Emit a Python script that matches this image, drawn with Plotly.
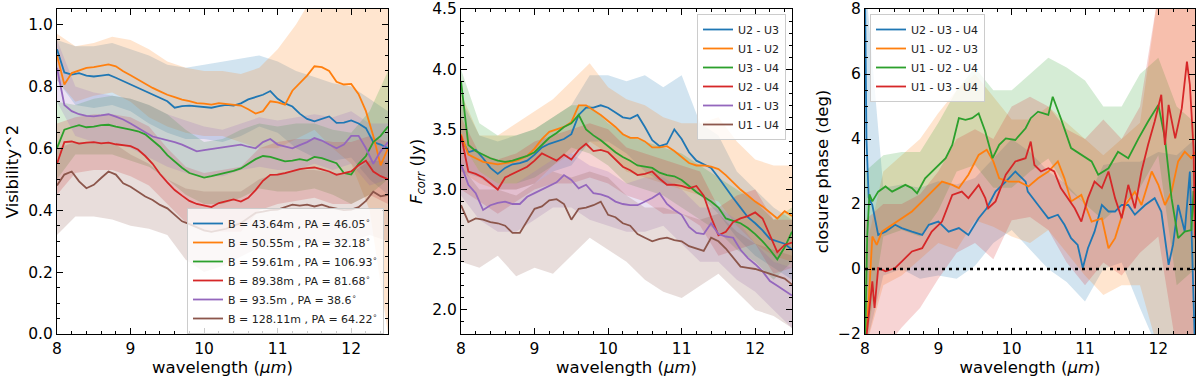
import plotly.graph_objects as go

# ---------------- data ----------------
COLORS = ['#1f77b4', '#ff7f0e', '#2ca02c', '#d62728', '#9467bd', '#8c564b']

WL = [8.0, 8.1, 8.2, 8.3, 8.4, 8.5, 8.6, 8.7, 8.8, 8.9, 9.0, 9.1, 9.2, 9.3, 9.4, 9.5,
      9.6, 9.7, 9.8, 9.9, 10.0, 10.1, 10.2, 10.3, 10.4, 10.5, 10.6, 10.7, 10.8, 10.9,
      11.0, 11.1, 11.2, 11.3, 11.4, 11.5, 11.6, 11.7, 11.8, 11.9, 12.0, 12.1, 12.2,
      12.3, 12.4, 12.5]
WL_BAND = [8.0, 8.25, 8.5, 8.75, 9.0, 9.25, 9.5, 9.75, 10.0, 10.25, 10.5, 10.75,
           11.0, 11.25, 11.5, 11.75, 12.0, 12.25, 12.5]

# panel 1 : squared visibility
VIS_NAMES = ['B = 43.64m , PA = 46.05<sup>∘</sup>', 'B = 50.55m , PA = 32.18<sup>∘</sup>',
             'B = 59.61m , PA = 106.93<sup>∘</sup>', 'B = 89.38m , PA = 81.68<sup>∘</sup>',
             'B = 93.5m , PA = 38.6<sup>∘</sup>', 'B = 128.11m , PA = 64.22<sup>∘</sup>']
vis_blue = [0.92, 0.845, 0.838, 0.843, 0.835, 0.832, 0.835, 0.838, 0.828, 0.817, 0.805, 0.795,
            0.784, 0.773, 0.762, 0.752, 0.731, 0.736, 0.738, 0.736, 0.733, 0.731, 0.736, 0.74,
            0.738, 0.745, 0.758, 0.766, 0.773, 0.785, 0.76, 0.745, 0.735, 0.712, 0.695, 0.687,
            0.695, 0.703, 0.682, 0.683, 0.69, 0.68, 0.665, 0.62, 0.612, 0.6]
vis_orange = [0.9, 0.806, 0.843, 0.852, 0.86, 0.862, 0.867, 0.871, 0.865, 0.849, 0.836, 0.822,
              0.808, 0.795, 0.784, 0.773, 0.765, 0.757, 0.752, 0.746, 0.744, 0.741, 0.746, 0.743,
              0.741, 0.738, 0.726, 0.712, 0.72, 0.752, 0.748, 0.741, 0.786, 0.81, 0.835, 0.865,
              0.862, 0.85, 0.815, 0.806, 0.808, 0.775, 0.72, 0.64, 0.545, 0.6]
vis_green = [0.6, 0.66, 0.668, 0.675, 0.668, 0.67, 0.675, 0.676, 0.67, 0.666, 0.66, 0.655,
             0.645, 0.625, 0.605, 0.578, 0.556, 0.537, 0.52, 0.513, 0.505, 0.51, 0.515, 0.52,
             0.527, 0.535, 0.55, 0.565, 0.575, 0.572, 0.565, 0.558, 0.56, 0.565, 0.56, 0.572,
             0.568, 0.56, 0.552, 0.52, 0.515, 0.55, 0.575, 0.62, 0.64, 0.67]
vis_red = [0.55, 0.62, 0.622, 0.615, 0.618, 0.62, 0.616, 0.618, 0.613, 0.61, 0.607, 0.596,
           0.575, 0.55, 0.517, 0.49, 0.465, 0.447, 0.43, 0.42, 0.415, 0.41, 0.423, 0.43,
           0.435, 0.428, 0.44, 0.465, 0.495, 0.514, 0.515, 0.52, 0.527, 0.533, 0.536, 0.538,
           0.532, 0.525, 0.514, 0.52, 0.525, 0.545, 0.56, 0.525, 0.51, 0.5]
vis_purple = [0.86, 0.74, 0.72, 0.71, 0.705, 0.703, 0.706, 0.71, 0.702, 0.693, 0.68, 0.665,
              0.652, 0.638, 0.632, 0.628, 0.62, 0.612, 0.6, 0.59, 0.594, 0.598, 0.6, 0.604,
              0.61, 0.612, 0.605, 0.6, 0.62, 0.63, 0.612, 0.605, 0.6, 0.61, 0.62, 0.633,
              0.625, 0.612, 0.6, 0.612, 0.64, 0.64, 0.6, 0.55, 0.59, 0.62]
vis_brown = [0.48, 0.515, 0.525, 0.493, 0.471, 0.482, 0.504, 0.525, 0.515, 0.487, 0.476, 0.46,
             0.444, 0.433, 0.417, 0.406, 0.385, 0.364, 0.355, 0.345, 0.335, 0.33, 0.335, 0.34,
             0.35, 0.358, 0.375, 0.391, 0.395, 0.4, 0.402, 0.41, 0.418, 0.415, 0.418, 0.412,
             0.418, 0.41, 0.405, 0.4, 0.402, 0.41, 0.43, 0.46, 0.445, 0.45]
VIS = [vis_blue, vis_orange, vis_green, vis_red, vis_purple, vis_brown]

vis_hi = [
    [0.95, 0.93, 0.93, 0.94, 0.92, 0.90, 0.87, 0.86, 0.87, 0.88, 0.89, 0.90, 0.88, 0.85, 0.83, 0.81, 0.80, 0.76, 0.72],
    [0.97, 0.93, 0.94, 0.96, 0.95, 0.92, 0.88, 0.86, 0.85, 0.85, 0.84, 0.86, 0.92, 1.00, 1.10, 1.10, 1.10, 1.10, 1.10],
    [0.75, 0.74, 0.76, 0.77, 0.76, 0.74, 0.71, 0.66, 0.62, 0.63, 0.66, 0.68, 0.67, 0.68, 0.68, 0.66, 0.65, 0.72, 0.85],
    [0.68, 0.70, 0.71, 0.71, 0.70, 0.67, 0.60, 0.54, 0.52, 0.53, 0.54, 0.60, 0.62, 0.63, 0.63, 0.62, 0.62, 0.64, 0.62],
    [0.95, 0.80, 0.78, 0.77, 0.76, 0.74, 0.71, 0.69, 0.67, 0.66, 0.68, 0.70, 0.69, 0.70, 0.71, 0.70, 0.72, 0.68, 0.68],
    [0.60, 0.62, 0.62, 0.62, 0.58, 0.55, 0.50, 0.47, 0.46, 0.46, 0.46, 0.50, 0.52, 0.53, 0.53, 0.52, 0.52, 0.56, 0.56],
]
vis_lo = [
    [0.82, 0.74, 0.73, 0.74, 0.72, 0.68, 0.65, 0.63, 0.63, 0.62, 0.64, 0.67, 0.65, 0.60, 0.57, 0.56, 0.57, 0.50, 0.45],
    [0.82, 0.75, 0.77, 0.78, 0.75, 0.70, 0.67, 0.65, 0.64, 0.64, 0.62, 0.60, 0.60, 0.63, 0.66, 0.60, 0.55, 0.40, 0.00],
    [0.50, 0.58, 0.58, 0.58, 0.56, 0.54, 0.50, 0.45, 0.42, 0.42, 0.44, 0.47, 0.46, 0.46, 0.47, 0.45, 0.42, 0.45, 0.50],
    [0.45, 0.52, 0.53, 0.53, 0.51, 0.48, 0.42, 0.36, 0.33, 0.33, 0.33, 0.40, 0.42, 0.43, 0.44, 0.42, 0.42, 0.45, 0.42],
    [0.75, 0.64, 0.62, 0.62, 0.60, 0.57, 0.54, 0.52, 0.51, 0.51, 0.53, 0.54, 0.53, 0.53, 0.55, 0.53, 0.55, 0.48, 0.50],
    [0.32, 0.38, 0.38, 0.37, 0.35, 0.34, 0.32, 0.24, 0.20, 0.22, 0.25, 0.28, 0.30, 0.30, 0.30, 0.29, 0.30, 0.32, 0.30],
]

# panel 2 : correlated flux
FC_NAMES = ['U2 - U3', 'U1 - U2', 'U3 - U4', 'U2 - U4', 'U1 - U3', 'U1 - U4']
fc_blue = [3.43, 3.31, 3.33, 3.26, 3.18, 3.13, 3.18, 3.21, 3.22, 3.24, 3.29, 3.35, 3.38, 3.40,
           3.42, 3.46, 3.62, 3.68, 3.68, 3.70, 3.68, 3.64, 3.60, 3.59, 3.62, 3.52, 3.41, 3.36,
           3.38, 3.50, 3.42, 3.31, 3.24, 3.21, 3.18, 3.10, 3.01, 2.93, 2.85, 2.77, 2.72, 2.66,
           2.59, 2.57, 2.55, 2.50]
fc_orange = [3.46, 3.29, 3.26, 3.23, 3.22, 3.21, 3.22, 3.23, 3.25, 3.28, 3.34, 3.42, 3.48, 3.50,
             3.52, 3.56, 3.70, 3.70, 3.66, 3.62, 3.57, 3.52, 3.46, 3.43, 3.43, 3.40, 3.35, 3.35,
             3.36, 3.32, 3.27, 3.22, 3.20, 3.20, 3.19, 3.17, 3.12, 3.06, 3.00, 2.95, 2.90, 2.86,
             2.81, 2.76, 2.82, 2.78]
fc_green = [3.9, 3.37, 3.32, 3.29, 3.26, 3.24, 3.23, 3.24, 3.26, 3.28, 3.31, 3.37, 3.43, 3.47,
            3.52, 3.55, 3.62, 3.50, 3.45, 3.41, 3.36, 3.31, 3.27, 3.24, 3.20, 3.19, 3.18, 3.14,
            3.12, 3.11, 3.08, 3.03, 2.98, 2.94, 2.90, 2.85, 2.76, 2.74, 2.72, 2.68, 2.63, 2.57,
            2.50, 2.42, 2.52, 2.65]
fc_red = [3.45, 3.15, 3.13, 3.10, 3.05, 3.00, 3.10, 3.13, 3.16, 3.19, 3.24, 3.30, 3.27, 3.24,
          3.29, 3.25, 3.33, 3.38, 3.32, 3.33, 3.31, 3.25, 3.19, 3.16, 3.12, 3.13, 3.15, 3.09,
          3.04, 3.04, 3.03, 3.01, 3.03, 2.95, 2.77, 2.62, 2.65, 2.73, 2.76, 2.78, 2.81, 2.76,
          2.62, 2.48, 2.54, 2.56]
fc_purple = [3.21, 3.04, 2.97, 2.83, 2.87, 2.89, 2.90, 2.88, 2.88, 2.94, 2.97, 3.00, 3.03, 3.06,
             3.12, 3.08, 3.01, 3.04, 2.97, 2.96, 2.94, 2.90, 2.88, 2.87, 2.87, 2.90, 2.93, 2.97,
             2.88, 2.83, 2.79, 2.69, 2.64, 2.63, 2.72, 2.63, 2.61, 2.60, 2.50, 2.43, 2.38, 2.32,
             2.24, 2.20, 2.16, 2.12]
fc_brown = [2.87, 2.73, 2.76, 2.75, 2.73, 2.72, 2.70, 2.64, 2.64, 2.74, 2.84, 2.86, 2.91, 2.92,
            2.88, 2.75, 2.84, 2.85, 2.87, 2.90, 2.79, 2.77, 2.72, 2.70, 2.63, 2.60, 2.57, 2.59,
            2.60, 2.58, 2.57, 2.53, 2.51, 2.49, 2.60, 2.57, 2.51, 2.43, 2.36, 2.35, 2.34, 2.32,
            2.30, 2.28, 2.26, 2.21]
FC = [fc_blue, fc_orange, fc_green, fc_red, fc_purple, fc_brown]

fc_hi = [
    [3.75, 3.45, 3.40, 3.45, 3.50, 3.60, 3.70, 3.95, 3.95, 3.90, 3.95, 3.85, 3.95, 3.55, 3.45, 3.15, 3.00, 2.85, 2.75],
    [3.80, 3.45, 3.45, 3.55, 3.65, 3.75, 3.90, 4.05, 3.85, 3.75, 3.70, 3.60, 3.55, 3.55, 3.60, 3.40, 3.25, 3.20, 3.20],
    [4.00, 3.55, 3.45, 3.45, 3.50, 3.60, 3.70, 3.70, 3.55, 3.45, 3.40, 3.35, 3.30, 3.20, 3.10, 3.00, 2.90, 2.75, 2.85],
    [3.60, 3.30, 3.25, 3.30, 3.40, 3.45, 3.50, 3.55, 3.50, 3.35, 3.30, 3.25, 3.20, 3.15, 2.85, 2.95, 3.00, 2.75, 2.75],
    [3.40, 3.15, 3.05, 3.05, 3.15, 3.25, 3.30, 3.20, 3.15, 3.05, 3.10, 3.10, 3.00, 2.85, 2.85, 2.75, 2.55, 2.40, 2.35],
    [3.20, 3.00, 3.00, 2.95, 3.05, 3.15, 3.10, 3.15, 3.10, 2.95, 2.85, 2.85, 2.80, 2.75, 2.80, 2.65, 2.55, 2.50, 2.45],
]
fc_lo = [
    [3.15, 3.10, 3.00, 3.00, 3.05, 3.15, 3.20, 3.40, 3.40, 3.30, 3.15, 3.05, 3.05, 2.95, 2.80, 2.60, 2.45, 2.35, 2.25],
    [3.15, 3.05, 3.00, 3.00, 3.05, 3.20, 3.30, 3.40, 3.30, 3.15, 3.10, 3.05, 3.00, 2.95, 2.90, 2.70, 2.55, 2.45, 2.40],
    [3.40, 3.15, 3.05, 3.05, 3.10, 3.20, 3.35, 3.30, 3.20, 3.05, 3.00, 2.95, 2.85, 2.75, 2.65, 2.50, 2.40, 2.25, 2.40],
    [3.00, 2.90, 2.80, 2.90, 3.00, 3.05, 3.05, 3.10, 3.05, 2.95, 2.90, 2.80, 2.80, 2.70, 2.45, 2.50, 2.55, 2.30, 2.35],
    [2.95, 2.75, 2.65, 2.65, 2.75, 2.85, 2.85, 2.75, 2.70, 2.65, 2.65, 2.70, 2.55, 2.40, 2.40, 2.25, 2.15, 2.00, 1.85],
    [2.40, 2.35, 2.45, 2.28, 2.35, 2.30, 2.45, 2.60, 2.50, 2.40, 2.25, 2.15, 2.10, 2.20, 2.30, 2.15, 2.00, 1.95, 1.85],
]

# panel 3 : closure phase (noisy, sampled where read)
CP_NAMES = ['U2 - U3 - U4', 'U1 - U2 - U3', 'U1 - U2 - U4', 'U1 - U3 - U4']
cp_blue_x = [8.0, 8.02, 8.05, 8.1, 8.18, 8.28, 8.41, 8.5, 8.64, 8.78, 8.87, 9.0, 9.14, 9.28,
             9.41, 9.55, 9.66, 9.78, 9.92, 10.05, 10.19, 10.22, 10.36, 10.5, 10.63, 10.72,
             10.81, 10.9, 10.97, 11.04, 11.13, 11.23, 11.32, 11.41, 11.5, 11.59, 11.68, 11.82,
             11.95, 12.04, 12.14, 12.2, 12.27, 12.36, 12.43, 12.48, 12.5]
cp_blue = [8.5, 4.0, 2.2, 1.97, 1.05, 1.15, 1.36, 1.26, 1.15, 1.05, 1.36, 1.46, 1.15, 1.26,
           1.05, 1.56, 1.87, 2.38, 2.69, 3.0, 2.69, 2.38, 1.97, 1.56, 1.67, 1.36, 0.95, 0.74,
           0.03, 0.64, 1.15, 1.97, 1.77, 1.77, 1.97, 1.97, 1.67, 1.97, 2.18, 1.77, 0.13, 0.74,
           1.97, 1.15, 3.0, -1.1, -2.5]
cp_orange_x = [8.0, 8.05, 8.1, 8.16, 8.23, 8.37, 8.5, 8.64, 8.78, 8.91, 9.05, 9.19, 9.28, 9.41,
               9.55, 9.66, 9.75, 9.83, 9.96, 10.1, 10.23, 10.36, 10.5, 10.63, 10.72, 10.81,
               10.95, 11.09, 11.23, 11.32, 11.41, 11.55, 11.68, 11.77, 11.91, 12.0, 12.09,
               12.18, 12.27, 12.36, 12.45, 12.5]
cp_orange = [-2.5, -1.0, 1.0, 0.74, 1.15, 1.36, 1.56, 1.77, 2.08, 2.38, 2.69, 2.59, 2.49, 2.9,
             3.51, 3.67, 3.31, 2.79, 2.69, 2.69, 2.54, 2.79, 3.0, 3.31, 2.79, 2.08, 2.28, 1.46,
             1.56, 0.64, 0.95, 1.97, 2.38, 1.97, 3.0, 2.59, 1.97, 2.38, 3.31, 3.61, 3.41, 3.6]
cp_green_x = [8.0, 8.03, 8.06, 8.1, 8.18, 8.28, 8.37, 8.46, 8.55, 8.64, 8.71, 8.82, 8.96, 9.1,
              9.19, 9.28, 9.37, 9.46, 9.55, 9.64, 9.74, 9.83, 9.92, 10.05, 10.19, 10.26, 10.36,
              10.5, 10.56, 10.67, 10.81, 10.95, 11.09, 11.18, 11.32, 11.45, 11.59, 11.73, 11.86,
              12.0, 12.09, 12.18, 12.27, 12.36, 12.45, 12.48, 12.5]
cp_green = [-2.5, 1.0, 2.3, 2.08, 2.38, 2.54, 2.38, 2.49, 2.59, 2.49, 2.33, 2.79, 3.10, 3.41,
            3.82, 4.64, 4.59, 4.64, 4.79, 4.23, 3.41, 3.82, 4.02, 3.97, 4.33, 4.64, 4.84, 4.74,
            5.3, 4.64, 3.72, 3.51, 3.31, 2.9, 3.10, 3.61, 3.41, 4.02, 4.54, 5.05, 4.02, 2.18,
            0.95, 1.15, 1.2, 2.4, 1.5]
cp_red_x = [8.0, 8.05, 8.08, 8.1, 8.13, 8.18, 8.28, 8.41, 8.5, 8.64, 8.78, 8.91, 9.05, 9.19,
            9.32, 9.41, 9.55, 9.64, 9.68, 9.78, 9.92, 10.05, 10.19, 10.26, 10.31, 10.4, 10.5,
            10.58, 10.67, 10.77, 10.86, 10.95, 11.04, 11.13, 11.23, 11.32, 11.41, 11.5, 11.59,
            11.68, 11.77, 11.86, 11.95, 12.04, 12.09, 12.14, 12.23, 12.32, 12.39, 12.43, 12.48,
            12.5]
cp_red = [-2.5, -1.5, -0.8, -0.38, -1.2, 0.03, -0.07, 0.03, 0.23, 0.54, 0.64, 1.15, 1.46, 2.28,
          2.38, 2.18, 2.59, 2.18, 1.87, 2.08, 2.9, 3.31, 3.41, 3.92, 3.2, 3.0, 3.1, 3.0, 2.49,
          2.18, 1.87, 1.46, 2.18, 2.69, 2.49, 3.0, 2.18, 1.56, 2.59, 1.87, 3.0, 3.82, 4.54, 5.36,
          3.82, 5.05, 4.02, 4.95, 6.38, 5.67, 3.72, 0.95]
CP_X = [cp_blue_x, cp_orange_x, cp_green_x, cp_red_x]
CP = [cp_blue, cp_orange, cp_green, cp_red]

cp_hi = [
    [9.0, 2.5, 2.6, 2.5, 2.7, 2.6, 2.8, 3.4, 4.0, 3.6, 3.0, 2.6, 2.0, 3.2, 3.3, 3.3, 3.6, 3.5, 4.0],
    [0.5, 3.0, 3.5, 4.0, 4.8, 5.5, 6.0, 5.3, 4.6, 4.6, 5.0, 4.5, 4.0, 3.5, 4.0, 4.5, 8.5, 9.0, 9.0],
    [3.0, 3.5, 3.6, 3.6, 4.5, 5.5, 6.2, 5.5, 5.5, 6.0, 6.5, 6.2, 5.8, 5.0, 5.0, 6.0, 6.5, 5.0, 4.5],
    [1.5, 2.0, 2.0, 2.3, 3.0, 4.0, 4.3, 4.0, 5.0, 5.3, 5.0, 4.3, 4.0, 4.6, 4.0, 5.0, 8.5, 9.0, 9.0],
]
cp_lo = [
    [-2.5, -0.2, 0.0, -0.3, -0.2, -0.3, 0.1, 0.8, 1.2, 0.6, 0.0, -0.4, -1.0, 0.0, 0.2, -1.2, -2.5, -2.5, -2.5],
    [-2.5, -0.5, -0.2, 0.3, 0.8, 0.6, 1.5, 1.3, 1.0, 0.8, 1.2, 0.5, -0.2, -0.8, -0.5, -0.5, -2.5, -2.5, -2.5],
    [-2.5, 1.0, 1.2, 1.0, 1.8, 3.0, 3.2, 2.5, 2.5, 3.0, 3.4, 2.5, 2.0, 1.5, 2.0, 2.5, 3.5, -0.5, 0.0],
    [-2.5, -2.5, -1.8, -1.2, -0.3, 0.5, 0.8, 0.3, 1.5, 1.6, 1.2, 0.2, -0.5, 0.2, -0.2, 0.5, 1.0, -2.5, -2.5],
]

FONT = 'DejaVu Sans'


def rgba(hex_color, alpha):
    h = hex_color.lstrip('#')
    return 'rgba(%d,%d,%d,%s)' % (int(h[0:2], 16), int(h[2:4], 16), int(h[4:6], 16), alpha)


fig = go.Figure()


def add_panel(xs, ys, his, los, names, ax, legend):
    xa = 'x' if ax == 1 else 'x%d' % ax
    ya = 'y' if ax == 1 else 'y%d' % ax
    for i in range(len(ys)):
        fig.add_trace(go.Scatter(
            x=WL_BAND + WL_BAND[::-1], y=his[i] + los[i][::-1],
            fill='toself', fillcolor=rgba(COLORS[i], 0.2), line=dict(width=0),
            mode='lines', hoverinfo='skip', showlegend=False, xaxis=xa, yaxis=ya))
    for i in range(len(ys)):
        fig.add_trace(go.Scatter(
            x=xs[i], y=ys[i], mode='lines', name=names[i],
            line=dict(color=COLORS[i], width=1.8), legend=legend,
            xaxis=xa, yaxis=ya))


add_panel([WL] * 6, VIS, vis_hi, vis_lo, VIS_NAMES, 1, 'legend')
add_panel([WL] * 6, FC, fc_hi, fc_lo, FC_NAMES, 2, 'legend2')
add_panel(CP_X, CP, cp_hi, cp_lo, CP_NAMES, 3, 'legend3')

# dotted zero reference in the closure-phase panel
fig.add_shape(type='line', xref='x3 domain', yref='y3', x0=0, x1=1, y0=0, y1=0,
              line=dict(color='black', width=2.5, dash='3px,4px'))

W, H = 1200, 382
ML, MR, MT, MB = 57, 5, 9, 48
PW = W - ML - MR
PH = H - MT - MB


def px_x(p):
    return (p - ML) / PW


def px_y(p):
    return (H - MB - p) / PH


axis_common = dict(showline=True, linecolor='black', linewidth=1, mirror='allticks',
                   ticks='inside', ticklen=6, tickwidth=1, tickcolor='black',
                   showgrid=False, zeroline=False, automargin=False,
                   tickfont=dict(family=FONT, size=15.5, color='black'),
                   title_font=dict(family=FONT, size=16.5, color='black'))

xt = dict(text='wavelength (<i>μm</i>)', standoff=2)
for k, (a, b) in zip(['xaxis', 'xaxis2', 'xaxis3'], [(57, 388), (461, 792), (865, 1195)]):
    fig.layout[k] = dict(axis_common, domain=[px_x(a), px_x(b)], range=[8, 12.5], dtick=1,
                         tick0=8,
                         minor=dict(ticks='inside', ticklen=3, dtick=0.2, tickcolor='black',
                                    showgrid=False),
                         title=xt)
fig.layout['xaxis2'].anchor = 'y2'
fig.layout['xaxis3'].anchor = 'y3'

fig.layout['yaxis'] = dict(axis_common, range=[0, 1.05], dtick=0.2, tickformat='.1f',
                           minor=dict(ticks='inside', ticklen=3, dtick=0.05, tickcolor='black'),
                           title=dict(text='Visibility^2', standoff=5), anchor='x')
fig.layout['yaxis2'] = dict(axis_common, range=[1.8, 4.5], dtick=0.5, tick0=2, tickformat='.1f',
                            minor=dict(ticks='inside', ticklen=3, dtick=0.1, tickcolor='black'),
                            title=dict(text='<i>F</i><sub><i>corr</i></sub> (Jy)', standoff=5),
                            anchor='x2')
fig.layout['yaxis3'] = dict(axis_common, range=[-2, 8], dtick=2, tick0=0,
                            minor=dict(ticks='inside', ticklen=3, dtick=0.5, tickcolor='black'),
                            title=dict(text='closure phase (deg)', standoff=5), anchor='x3')

leg_common = dict(bgcolor='rgba(255,255,255,0.8)', bordercolor='#cccccc', borderwidth=1,
                  font=dict(family=FONT, size=11, color='#222222'), itemwidth=30,
                  tracegroupgap=0)
fig.update_layout(
    width=W, height=H, margin=dict(l=ML, r=MR, t=MT, b=MB, autoexpand=False),
    paper_bgcolor='white', plot_bgcolor='white',
    font=dict(family=FONT, color='black'),
    legend=dict(leg_common, x=px_x(384), xanchor='right', y=px_y(334), yanchor='bottom'),
    legend2=dict(leg_common, x=px_x(786), xanchor='right', y=px_y(14), yanchor='top'),
    legend3=dict(leg_common, x=px_x(870), xanchor='left', y=px_y(14), yanchor='top'),
)

# drop the browser's default page margin so the figure sits at the window origin
fig.write_html('out.html', config={'displayModeBar': False},
               post_script="document.body.style.margin='0';document.body.style.overflow='hidden';")
